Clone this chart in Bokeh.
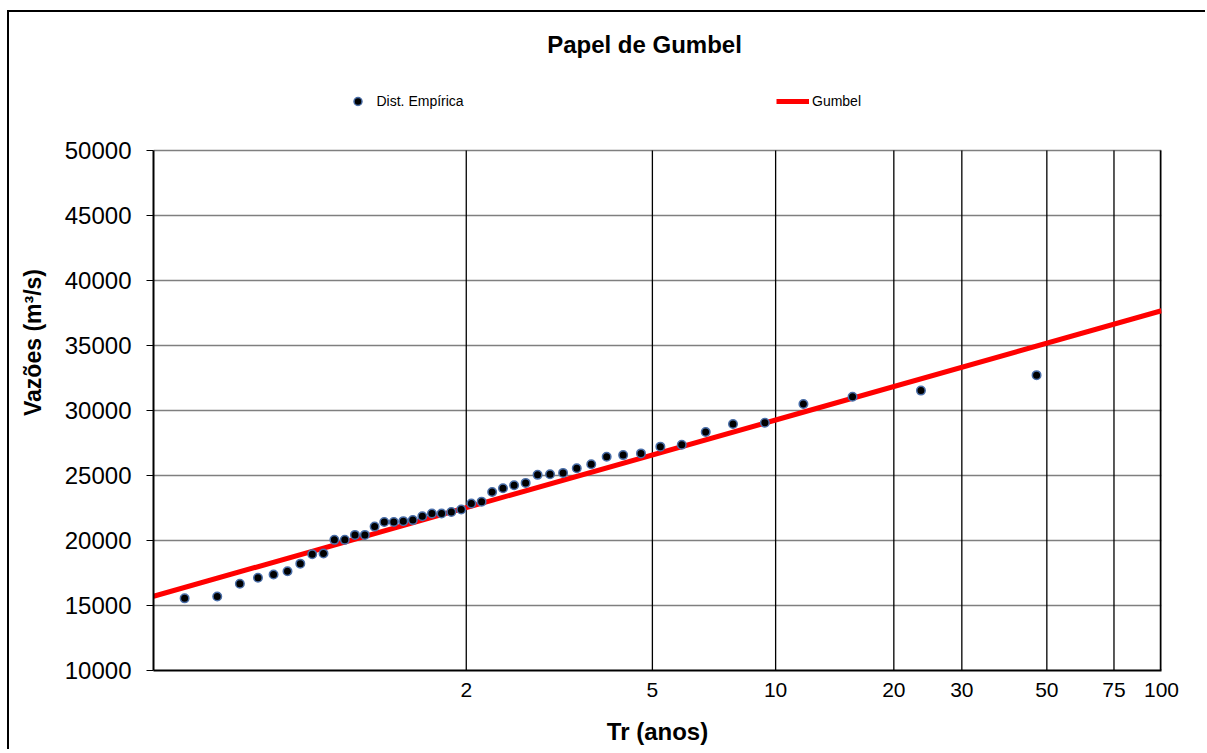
import math
from bokeh.plotting import figure
from bokeh.models import (Range1d, FixedTicker, Legend, LegendItem, Label,
                          ColumnDataSource)
from bokeh.embed import file_html
from bokeh.resources import INLINE

# ---------------- data ----------------
# empirical return periods (Weibull plotting position) and discharges
tr_empirical = [1.0217, 1.0444, 1.0682, 1.0930, 1.1190, 1.1463, 1.1750, 1.2051,
                1.2368, 1.2703, 1.3056, 1.3429, 1.3824, 1.4242, 1.4688, 1.5161,
                1.5667, 1.6207, 1.6786, 1.7407, 1.8077, 1.8800, 1.9583, 2.0435,
                2.1364, 2.2381, 2.3500, 2.4737, 2.6111, 2.7647, 2.9375, 3.1333,
                3.3571, 3.6154, 3.9167, 4.2727, 4.7000, 5.2222, 5.8750, 6.7143,
                7.8333, 9.4000, 11.7500, 15.6667, 23.5000, 47.0000]
q_empirical = [15550, 15690, 16670, 17130, 17380, 17640, 18220, 18940, 19000,
               20050, 20050, 20430, 20430, 21070, 21420, 21420, 21490, 21570,
               21860, 22080, 22080, 22190, 22380, 22840, 22990, 23730, 24020,
               24250, 24430, 25050, 25100, 25200, 25560, 25870, 26440, 26570,
               26700, 27220, 27360, 28340, 28960, 29060, 30500, 31060, 31530,
               32720]

# fitted Gumbel line (return period, discharge)
gumbel_tr = [1.0096, 2.0, 10.0, 100.0]
gumbel_q = [15710, 22528, 29269, 37679]

tick_tr = [2, 5, 10, 20, 30, 50, 75, 100]
tick_labels = ["2", "5", "10", "20", "30", "50", "75", "100"]
y_ticks = [10000, 15000, 20000, 25000, 30000, 35000, 40000, 45000, 50000]
tr_limits = [1.0096, 100.0]
q_limits = [10000, 50000]


def gumbel_var(t):
    """Gumbel reduced variate of a return period (Gumbel paper axis)."""
    return -math.log(-math.log(1.0 - 1.0 / t))


FONT = "Liberation Sans"

# layout geometry (pixels); canvas placed at page (9, 12)
W, H = 1198, 739
MB_LEFT, MB_RIGHT, MB_TOP, MB_BOTTOM = 144, 46, 2, 81
PLOT_H = 520  # pixel height of the 10000..50000 plotting area
frame_h = H - MB_TOP - MB_BOTTOM
y_end = q_limits[0] + (q_limits[1] - q_limits[0]) * frame_h / PLOT_H

x0, x1 = gumbel_var(tr_limits[0]), gumbel_var(tr_limits[1])

p = figure(width=W, height=H, output_backend="svg", toolbar_location=None,
           x_range=Range1d(x0, x1), y_range=Range1d(q_limits[0], y_end),
           min_border_left=MB_LEFT, min_border_right=MB_RIGHT,
           min_border_top=MB_TOP, min_border_bottom=MB_BOTTOM,
           margin=(12, 0, 0, 9))
# outer chart-object frame: only its left and top edges are in view
p.styles = {"box-shadow": "-2px -2px 0px 0px black"}
p.background_fill_color = "white"
p.border_fill_color = "white"
p.outline_line_color = None

xt = [gumbel_var(t) for t in tick_tr]

# grids: horizontal from the grid object, vertical as bounded segments
p.xgrid.visible = False
p.ygrid.ticker = FixedTicker(ticks=y_ticks)
p.ygrid.grid_line_color = "#7f7f7f"
p.ygrid.grid_line_width = 1.5

vsrc = ColumnDataSource(dict(x=xt[:-1], y0=[q_limits[0]] * (len(xt) - 1),
                             y1=[q_limits[1]] * (len(xt) - 1)))
p.segment(x0="x", x1="x", y0="y0", y1="y1", source=vsrc,
          line_color="black", line_width=1.3)
# right edge of the plotting area
p.segment(x0=[x1], x1=[x1], y0=[q_limits[0]], y1=[q_limits[1]],
          line_color="black", line_width=3.5)

# x axis
p.xaxis.ticker = FixedTicker(ticks=xt)
p.xaxis.major_label_overrides = {v: s for v, s in zip(xt, tick_labels)}
p.xaxis.major_tick_out = 0
p.xaxis.major_tick_in = 0
p.xaxis.minor_tick_line_color = None
p.xaxis.axis_line_color = "black"
p.xaxis.axis_line_width = 2
p.xaxis.major_label_standoff = 12
p.xaxis.major_label_text_font = FONT
p.xaxis.major_label_text_font_size = "21px"
p.xaxis.major_label_text_color = "black"
p.xaxis.axis_label = "Tr (anos)"
p.xaxis.axis_label_text_font = FONT
p.xaxis.axis_label_text_font_size = "24px"
p.xaxis.axis_label_text_font_style = "bold"
p.xaxis.axis_label_text_color = "black"
p.xaxis.axis_label_standoff = 18

# y axis
p.yaxis.ticker = FixedTicker(ticks=y_ticks)
p.yaxis.bounds = (q_limits[0], q_limits[1])
p.yaxis.major_tick_out = 7
p.yaxis.major_tick_in = 0
p.yaxis.major_tick_line_color = "black"
p.yaxis.minor_tick_line_color = None
p.yaxis.axis_line_color = "black"
p.yaxis.axis_line_width = 2
p.yaxis.major_label_standoff = 15
p.yaxis.major_label_text_font = FONT
p.yaxis.major_label_text_font_size = "24px"
p.yaxis.major_label_text_color = "black"
p.yaxis.axis_label = "Vazões (m³/s)"
p.yaxis.axis_label_text_font = FONT
p.yaxis.axis_label_text_font_size = "23px"
p.yaxis.axis_label_text_font_style = "bold"
p.yaxis.axis_label_text_color = "black"
p.yaxis.axis_label_standoff = 16

# series
gsrc = ColumnDataSource(dict(x=[gumbel_var(t) for t in gumbel_tr], y=gumbel_q))
esrc = ColumnDataSource(dict(x=[gumbel_var(t) for t in tr_empirical], y=q_empirical))
r_line = p.line("x", "y", source=gsrc, line_color="red", line_width=5)
r_pts = p.scatter("x", "y", source=esrc, size=8.5, fill_color="black",
                  line_color="#4a6ea8", line_width=1.5)

# legends (two single-item legends above the plotting area), frame-relative px
frame_bottom_page = 670
leg_center_page = 100.5
leg_h = 20
vy = frame_bottom_page - (leg_center_page + leg_h / 2)
leg1 = Legend(items=[LegendItem(label="Dist. Empírica", renderers=[r_pts])],
              location=(340.5 - 153, vy), glyph_width=33, label_standoff=3)
leg2 = Legend(items=[LegendItem(label="Gumbel", renderers=[r_line])],
              location=(776 - 153, vy), glyph_width=33, label_standoff=3)
for lg in (leg1, leg2):
    lg.padding = 0
    lg.margin = 0
    lg.spacing = 0
    lg.border_line_color = None
    lg.background_fill_alpha = 0
    lg.label_text_font = FONT
    lg.label_text_font_size = "14px"
    lg.label_text_color = "black"
    lg.glyph_height = leg_h
    lg.label_height = leg_h
    p.add_layout(lg, "center")

# chart title
p.add_layout(Label(x=644 - 153, y=frame_bottom_page - 44,
                   x_units="screen", y_units="screen",
                   text="Papel de Gumbel", text_align="center",
                   text_baseline="middle", text_font=FONT,
                   text_font_size="24px", text_font_style="bold",
                   text_color="black"))

open("out.html", "w").write(file_html(p, INLINE))
